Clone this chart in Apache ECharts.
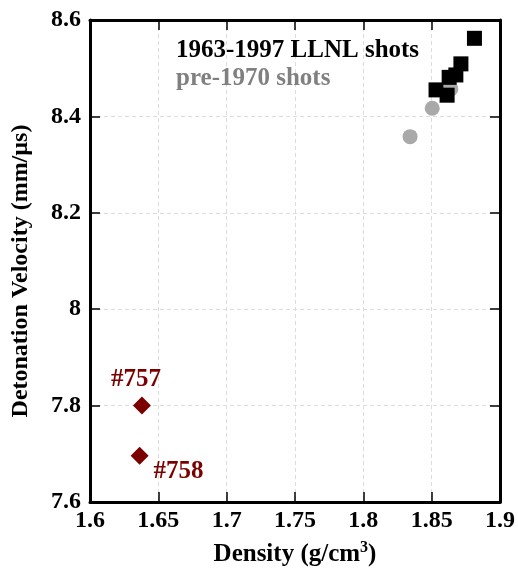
<!DOCTYPE html>
<html>
<head>
<meta charset="utf-8">
<script src="https://cdn.jsdelivr.net/npm/echarts@6/dist/echarts.min.js"></script>
<style>html,body{margin:0;padding:0;background:#fff;}#chart{width:518px;height:575px;}</style>
</head>
<body>
<div id="chart"></div>
<script>
// Data
const llnlName = '1963-1997 LLNL shots';
const llnlDensity  = [1.8813, 1.8714, 1.8677, 1.8628, 1.8532, 1.8613];
const llnlVelocity = [8.562, 8.509, 8.486, 8.481, 8.455, 8.444];

const preName = 'pre-1970 shots';
const preDensity  = [1.8504, 1.8342, 1.8640];
const preVelocity = [8.417, 8.358, 8.457];

const shotLabels   = ['#757', '#758'];
const shotDensity  = [1.638, 1.6363];
const shotVelocity = [7.800, 7.696];

const xTicks = ['1.6', '1.65', '1.7', '1.75', '1.8', '1.85', '1.9'];
const yTicks = ['7.6', '7.8', '8', '8.2', '8.4', '8.6'];

const FONT = "'Liberation Serif', 'DejaVu Serif', serif";
const shotLabelOffsets = [[-6, -26], [39, 16]];

const chart = echarts.init(document.getElementById('chart'), null, {renderer: 'canvas'});

const axisBase = {
  axisLine: {show: true, onZero: false, lineStyle: {color: '#000', width: 3}},
  axisTick: {show: true, inside: true, length: 10, lineStyle: {color: '#000', width: 1.5}},
  splitLine: {show: false}
};

const option = {
  animation: false,
  backgroundColor: '#fff',
  textStyle: {fontFamily: FONT},
  grid: {left: 90, right: 17, top: 20, bottom: 73, containLabel: false},
  legend: {
    orient: 'vertical',
    left: 166, top: 33,
    itemGap: 3,
    itemWidth: 0, itemHeight: 0,
    selectedMode: false,
    data: [
      {name: llnlName, icon: 'none', textStyle: {color: '#000'}},
      {name: preName, icon: 'none', textStyle: {color: '#808080'}}
    ],
    textStyle: {fontFamily: FONT, fontWeight: 'bold', fontSize: 25, padding: [0, 0, 0, 0]}
  },
  xAxis: [
    Object.assign({}, axisBase, {
      type: 'value', position: 'bottom',
      min: 1.6, max: 1.9, interval: 0.05,
      name: 'Density (g/cm{sup|3})',
      nameLocation: 'middle', nameGap: 38,
      nameTextStyle: {
        fontFamily: FONT, fontWeight: 'bold', fontSize: 25, color: '#000',
        rich: {sup: {fontFamily: FONT, fontWeight: 'bold', fontSize: 16, verticalAlign: 'top', padding: [0, 0, 14, 0], color: '#000'}}
      },
      axisLabel: {
        fontFamily: FONT, fontWeight: 'bold', fontSize: 24, color: '#000', margin: 7,
        formatter: v => { const i = Math.round((v - 1.6) / 0.05); return xTicks[i] !== undefined ? xTicks[i] : ''; }
      },
      splitLine: {show: true, lineStyle: {color: '#dcdcdc', width: 1, type: [4, 3]}}
    }),
    Object.assign({}, axisBase, {
      type: 'value', position: 'top',
      min: 1.6, max: 1.9, interval: 0.05,
      axisLabel: {show: false}
    })
  ],
  yAxis: [
    Object.assign({}, axisBase, {
      type: 'value', position: 'left',
      min: 7.6, max: 8.6, interval: 0.2,
      name: 'Detonation Velocity (mm/µs)',
      nameLocation: 'middle', nameGap: 57, nameRotate: 90,
      nameTextStyle: {fontFamily: FONT, fontWeight: 'bold', fontSize: 24, color: '#000', padding: [0, 20, 0, 0]},
      axisLabel: {
        fontFamily: FONT, fontWeight: 'bold', fontSize: 24, color: '#000', margin: 9,
        formatter: v => { const i = Math.round((v - 7.6) / 0.2); return yTicks[i] !== undefined ? yTicks[i] : ''; }
      },
      splitLine: {show: true, lineStyle: {color: '#dcdcdc', width: 1, type: [4, 3]}}
    }),
    Object.assign({}, axisBase, {
      type: 'value', position: 'right',
      min: 7.6, max: 8.6, interval: 0.2,
      axisLabel: {show: false}
    })
  ],
  series: [
    {
      name: preName, type: 'scatter', symbol: 'circle', symbolSize: 15,
      itemStyle: {color: '#a9a9a9', opacity: 1}, z: 2,
      data: preDensity.map((d, i) => [d, preVelocity[i]])
    },
    {
      name: llnlName, type: 'scatter', symbol: 'rect', symbolSize: 15,
      itemStyle: {color: '#000', opacity: 1}, z: 3,
      data: llnlDensity.map((d, i) => [d, llnlVelocity[i]])
    },
    {
      name: 'shots', type: 'scatter', symbol: 'diamond', symbolSize: [18, 18],
      itemStyle: {color: '#7b0000', opacity: 1}, z: 3,
      data: shotDensity.map((d, i) => ({
        value: [d, shotVelocity[i]],
        label: {
          show: true, position: 'inside', offset: shotLabelOffsets[i],
          formatter: shotLabels[i],
          fontFamily: FONT, fontWeight: 'bold', fontSize: 25, color: '#7b0000'
        }
      }))
    }
  ]
};
chart.setOption(option);
</script>
</body>
</html>
